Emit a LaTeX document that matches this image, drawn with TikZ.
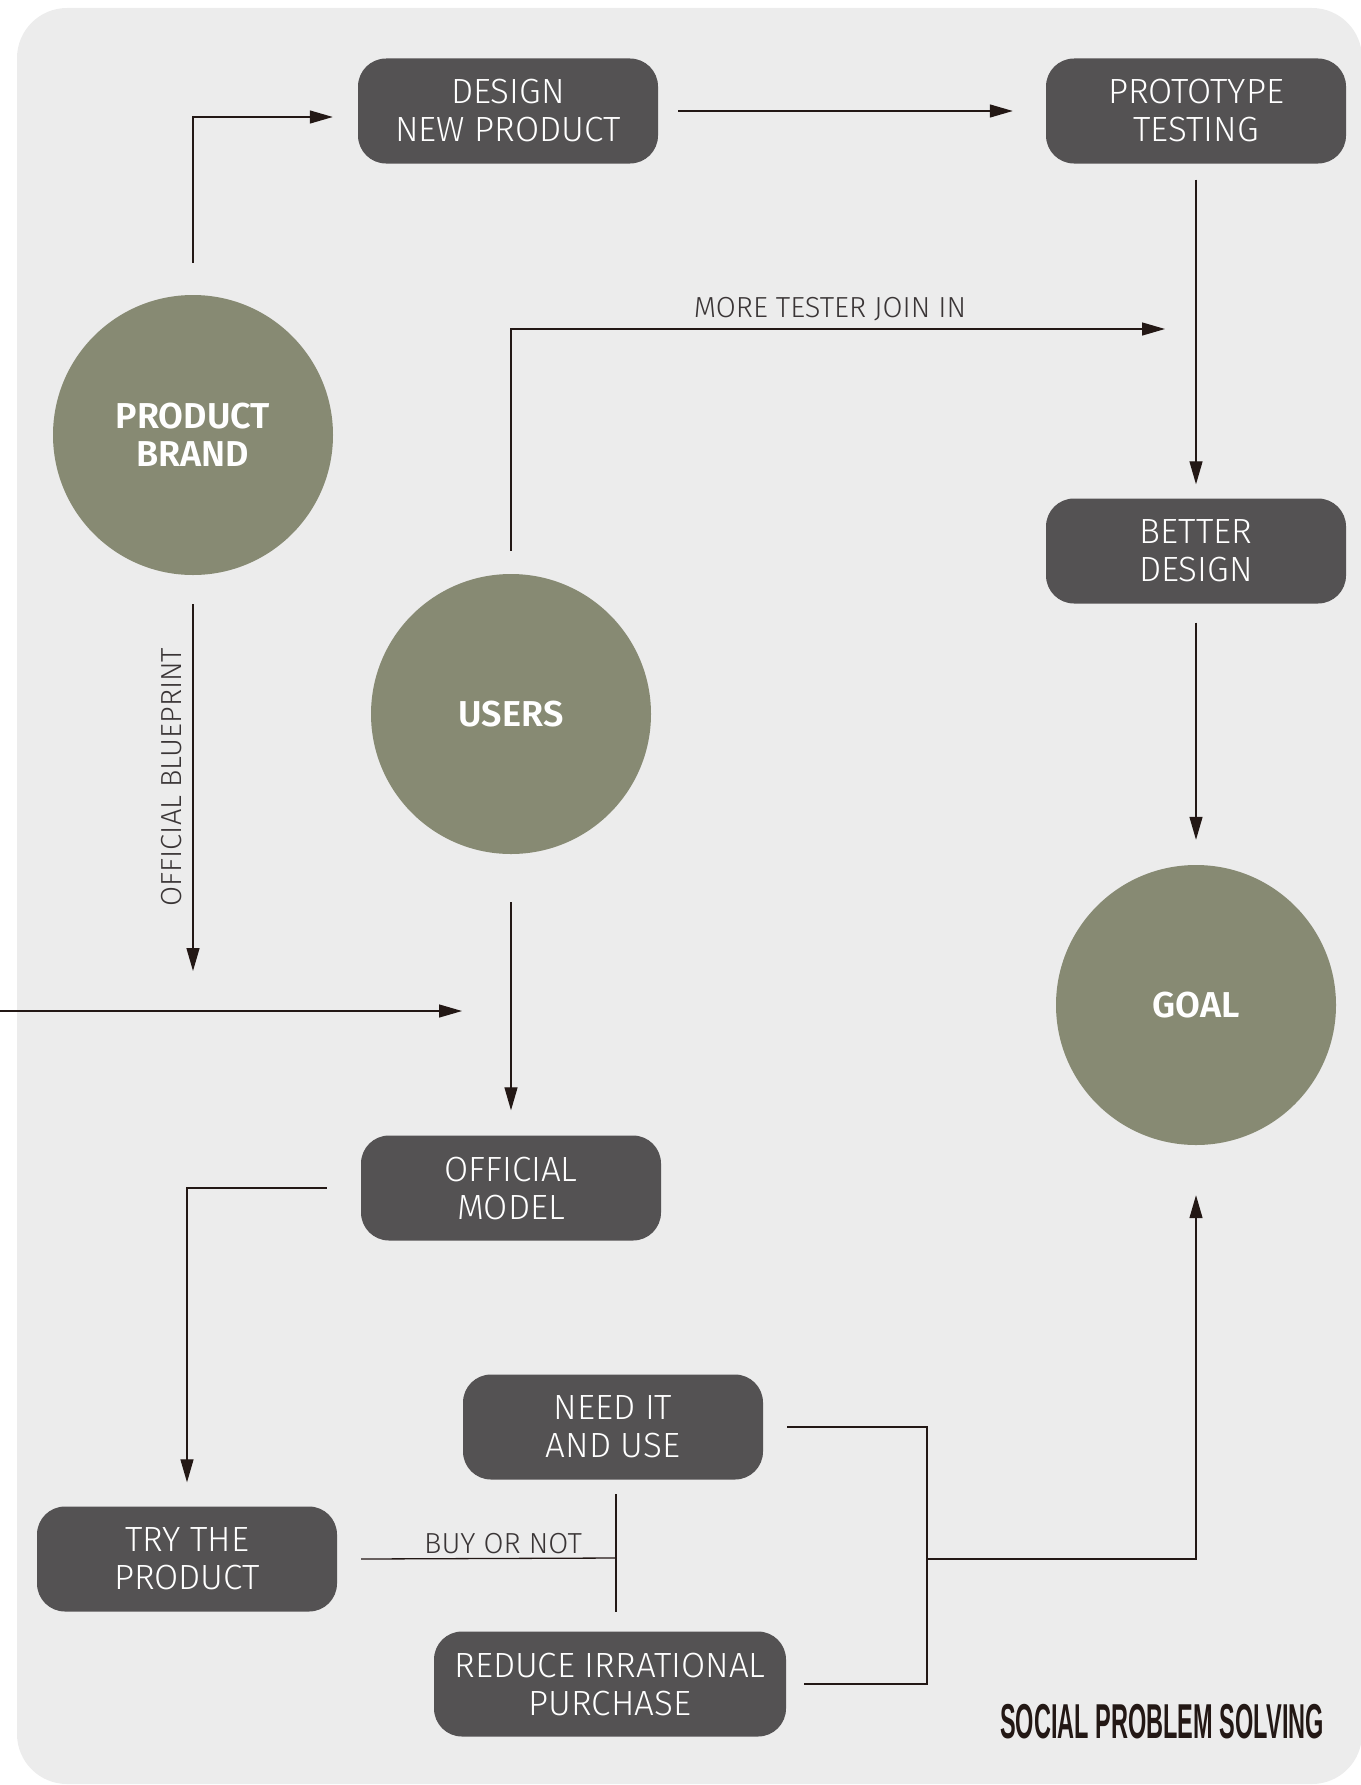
\documentclass[tikz,border=0pt]{standalone}
\usepackage{fontspec}
\setmainfont{Fira Sans Light}[BoldFont=Fira Sans SemiBold]
\newfontfamily\headf{Liberation Sans}[BoldFont=Liberation Sans Bold]
\usetikzlibrary{arrows.meta}
\definecolor{bgc}{HTML}{ECECEC}
\definecolor{boxc}{HTML}{545253}
\definecolor{circc}{HTML}{878A73}
\definecolor{linec}{HTML}{231815}
\definecolor{txtc}{HTML}{3A3536}
\tikzset{
  boxnode/.style={rectangle, rounded corners=28pt, fill=boxc, text=white,
    minimum width=300pt, minimum height=105pt, inner sep=0pt, align=center,
    font=\fontsize{35}{38}\selectfont},
  circnode/.style={circle, fill=circc, text=white, minimum size=280pt,
    inner sep=0pt, align=center, font=\bfseries\fontsize{36}{38}\selectfont},
  arr/.style={draw=linec, line width=1.3pt, -{Triangle[length=23pt,width=13pt]}},
  ln/.style={draw=linec, line width=1.3pt},
  lbl/.style={text=txtc, inner sep=0pt, font=\fontsize{29}{32}\selectfont}
}
\begin{document}
\begin{tikzpicture}[x=1pt,y=-1pt]
\useasboundingbox (0,0) rectangle (1360,1785);
\fill[bgc] (17,8) [rounded corners=50pt] rectangle (1362,1784);
% nodes
\node[boxnode] (design) at (508,111) {DESIGN\\NEW PRODUCT};
\node[boxnode] (proto) at (1196,111) {PROTOTYPE\\TESTING};
\node[boxnode] (better) at (1196,551) {BETTER\\DESIGN};
\node[boxnode] (model) at (511,1188) {OFFICIAL\\MODEL};
\node[boxnode] (need) at (613,1427) {NEED IT\\AND USE};
\node[boxnode] (try) at (187,1559) {TRY THE\\PRODUCT};
\node[boxnode, minimum width=352pt] (reduce) at (610,1684) {REDUCE IRRATIONAL\\PURCHASE};
\node[circnode] (brand) at (193,435) {PRODUCT\\BRAND};
\node[circnode] (users) at (511,714) {USERS};
\node[circnode] (goal) at (1196,1005) {GOAL};
% free ends
\coordinate (testerin) at (1165,329);
\coordinate (bpend) at (193,971);
\coordinate (leftin) at (0,1011);
\coordinate (leftend) at (462,1011);
\coordinate (buyjoin) at (616,1558);
\coordinate (buytop) at (616,1494);
\coordinate (buybot) at (616,1612);
\coordinate (brk) at (927,1559);
% connectors
\draw[arr] ([yshift=32pt]brand.north) |- ([xshift=-25pt,yshift=-6pt]design.west);
\draw[arr] ([xshift=20pt]design.east) -- ([xshift=-33pt]proto.west);
\draw[arr] ([yshift=-16pt]proto.south) -- ([yshift=14pt]better.north);
\draw[arr] ([yshift=23pt]users.north) |- (testerin);
\node[lbl] (testerlbl) at (830,309) {MORE TESTER JOIN IN};
\draw[arr] ([yshift=-19pt]better.south) -- ([yshift=25pt]goal.north);
\draw[arr] ([yshift=-29pt]brand.south) -- (bpend);
\node[lbl, rotate=90] (bplbl) at (172,777) {OFFICIAL BLUEPRINT};
\draw[arr] (leftin) -- (leftend);
\draw[arr] ([yshift=-48pt]users.south) -- ([yshift=25pt]model.north);
\draw[arr] ([xshift=-34pt]model.west) -| ([yshift=24pt]try.north);
\draw[ln] ([xshift=24pt]try.east) -- (buyjoin);
\draw[ln] (buytop) -- (buybot);
\node[lbl] (buylbl) at (503,1544) {BUY OR NOT};
\draw[ln] ([xshift=24pt]need.east) -| (brk) |- ([xshift=18pt]reduce.east);
\draw[arr] (brk) -| ([yshift=-50pt]goal.south);
\node[text=linec, inner sep=0pt] (title) at (1162,1722)
  {\scalebox{0.48}[1]{\headf\bfseries\fontsize{49}{55}\selectfont SOCIAL PROBLEM SOLVING}};
\end{tikzpicture}
\end{document}
